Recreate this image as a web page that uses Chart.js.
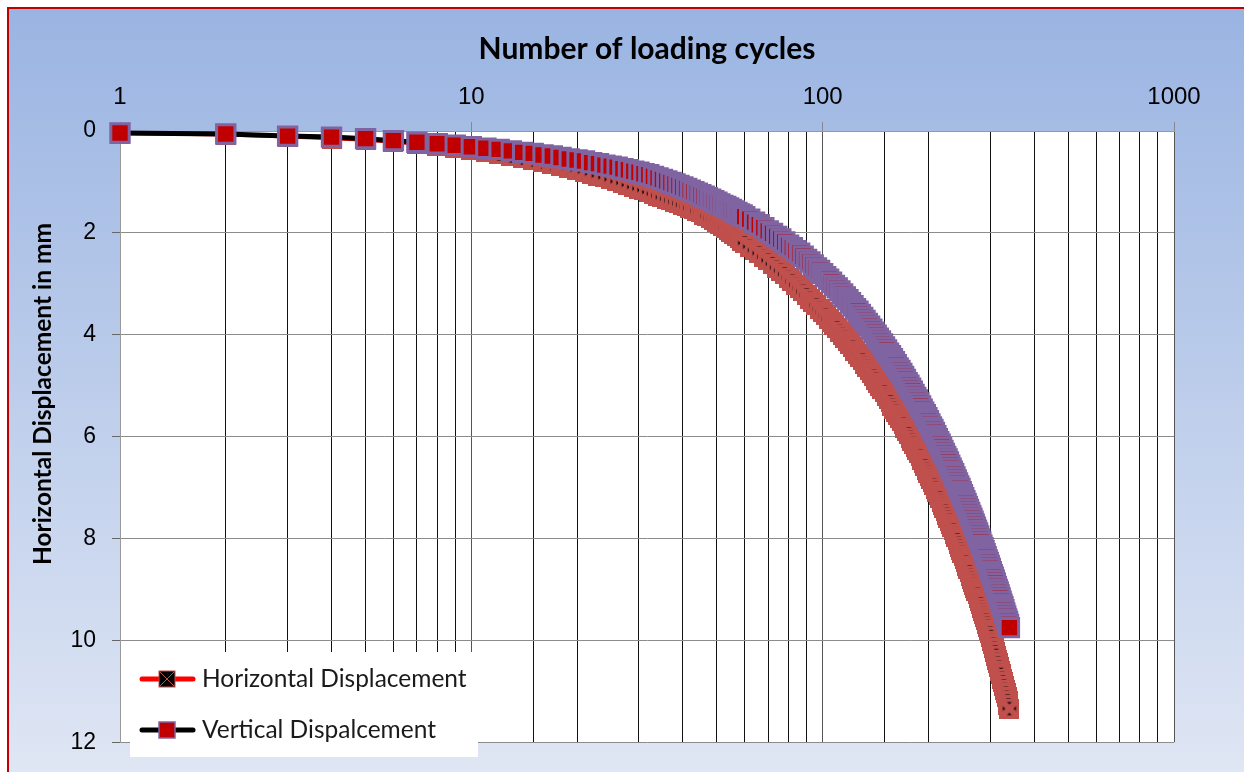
<!DOCTYPE html>
<html>
<head>
<meta charset="utf-8">
<script src="https://cdn.jsdelivr.net/npm/chart.js@4.4.1/dist/chart.umd.min.js"></script>
<style>
  html, body { margin: 0; padding: 0; background: #fff; }
  #wrap { width: 1244px; height: 772px; }
</style>
</head>
<body>
<div id="wrap"><canvas id="grafico" width="1244" height="772"></canvas></div>
<script>
// ciclos de carga (eixo x, log)
const cycles = [
  1, 2, 3, 4, 5, 6, 7, 8, 9, 10, 11, 12, 13, 14, 15, 16, 17, 18, 19, 20,
  21, 22, 23, 24, 25, 26, 27, 28, 29, 30, 31, 32, 33, 34, 35, 36, 37, 38, 39, 40,
  41, 42, 43, 44, 45, 46, 47, 48, 49, 50, 51, 52, 53, 54, 55, 56, 57, 58, 59, 60,
  62, 64, 66, 68, 70, 72, 74, 76, 78, 80, 82, 84, 86, 88, 90, 92, 94, 96, 98, 100,
  102, 104, 106, 108, 110, 112, 114, 116, 118, 120, 122, 124, 126, 128, 130, 132, 134, 136, 138, 140,
  142, 144, 146, 148, 150, 152, 154, 156, 158, 160, 162, 164, 166, 168, 170, 172, 174, 176, 178, 180,
  182, 184, 186, 188, 190, 192, 194, 196, 198, 200, 202, 204, 206, 208, 210, 212, 214, 216, 218, 220,
  222, 224, 226, 228, 230, 232, 234, 236, 238, 240, 242, 244, 246, 248, 250, 252, 254, 256, 258, 260,
  262, 264, 266, 268, 270, 272, 274, 276, 278, 280, 282, 284, 286, 288, 290, 292, 294, 296, 298, 300,
  302, 304, 306, 308, 310, 312, 314, 316, 318, 320, 322, 324, 326, 328, 330, 332, 334, 336, 338, 340
];

const horizontalDisp = [
  0.05, 0.08, 0.12, 0.15, 0.18, 0.22, 0.26, 0.30, 0.33, 0.37, 0.41, 0.45, 0.49, 0.53, 0.57, 0.61, 0.64, 0.68, 0.72, 0.76,
  0.80, 0.84, 0.88, 0.91, 0.95, 0.99, 1.02, 1.06, 1.10, 1.13, 1.16, 1.20, 1.23, 1.27, 1.30, 1.33, 1.36, 1.39, 1.42, 1.45,
  1.48, 1.51, 1.54, 1.57, 1.60, 1.64, 1.67, 1.71, 1.74, 1.78, 1.82, 1.86, 1.90, 1.94, 1.98, 2.02, 2.06, 2.11, 2.15, 2.20,
  2.27, 2.34, 2.40, 2.47, 2.54, 2.61, 2.68, 2.74, 2.81, 2.88, 2.95, 3.02, 3.08, 3.15, 3.22, 3.29, 3.36, 3.42, 3.49, 3.56,
  3.62, 3.69, 3.75, 3.81, 3.87, 3.94, 4.00, 4.06, 4.13, 4.19, 4.25, 4.32, 4.38, 4.44, 4.50, 4.57, 4.63, 4.69, 4.76, 4.82,
  4.88, 4.95, 5.01, 5.07, 5.13, 5.20, 5.26, 5.32, 5.39, 5.45, 5.51, 5.58, 5.64, 5.70, 5.76, 5.83, 5.89, 5.95, 6.02, 6.08,
  6.14, 6.21, 6.27, 6.33, 6.39, 6.46, 6.52, 6.58, 6.65, 6.71, 6.77, 6.84, 6.90, 6.96, 7.02, 7.09, 7.15, 7.21, 7.28, 7.34,
  7.40, 7.47, 7.53, 7.59, 7.65, 7.72, 7.78, 7.84, 7.91, 7.97, 8.03, 8.10, 8.16, 8.22, 8.28, 8.35, 8.41, 8.47, 8.54, 8.60,
  8.66, 8.73, 8.79, 8.85, 8.91, 8.98, 9.04, 9.10, 9.17, 9.23, 9.29, 9.36, 9.42, 9.48, 9.54, 9.61, 9.67, 9.73, 9.80, 9.86,
  9.93, 10.01, 10.08, 10.16, 10.23, 10.30, 10.38, 10.45, 10.53, 10.60, 10.67, 10.75, 10.82, 10.90, 10.97, 11.04, 11.12, 11.19, 11.27, 11.34
];

const verticalDisp = [
  0.04, 0.06, 0.10, 0.12, 0.15, 0.19, 0.22, 0.25, 0.28, 0.31, 0.34, 0.36, 0.39, 0.42, 0.44, 0.47, 0.49, 0.52, 0.55, 0.57,
  0.59, 0.62, 0.64, 0.67, 0.69, 0.71, 0.74, 0.76, 0.79, 0.81, 0.84, 0.86, 0.89, 0.92, 0.95, 0.98, 1.01, 1.04, 1.07, 1.10,
  1.13, 1.16, 1.19, 1.22, 1.25, 1.28, 1.31, 1.34, 1.37, 1.40, 1.43, 1.46, 1.48, 1.51, 1.54, 1.57, 1.60, 1.63, 1.65, 1.68,
  1.73, 1.79, 1.84, 1.90, 1.96, 2.01, 2.07, 2.12, 2.18, 2.24, 2.29, 2.35, 2.40, 2.46, 2.52, 2.57, 2.63, 2.69, 2.74, 2.80,
  2.86, 2.91, 2.97, 3.03, 3.08, 3.14, 3.20, 3.26, 3.31, 3.37, 3.43, 3.49, 3.54, 3.60, 3.66, 3.72, 3.78, 3.83, 3.89, 3.95,
  4.01, 4.07, 4.12, 4.18, 4.24, 4.30, 4.36, 4.41, 4.47, 4.53, 4.59, 4.65, 4.70, 4.76, 4.82, 4.88, 4.94, 4.99, 5.05, 5.11,
  5.17, 5.23, 5.28, 5.34, 5.40, 5.46, 5.52, 5.57, 5.63, 5.69, 5.75, 5.81, 5.86, 5.92, 5.98, 6.04, 6.10, 6.15, 6.21, 6.27,
  6.33, 6.39, 6.44, 6.50, 6.56, 6.62, 6.68, 6.73, 6.79, 6.85, 6.91, 6.97, 7.02, 7.08, 7.14, 7.20, 7.26, 7.31, 7.37, 7.43,
  7.49, 7.55, 7.60, 7.66, 7.72, 7.78, 7.84, 7.89, 7.95, 8.01, 8.07, 8.13, 8.18, 8.24, 8.30, 8.36, 8.42, 8.47, 8.53, 8.59,
  8.65, 8.71, 8.76, 8.82, 8.88, 8.94, 9.00, 9.05, 9.11, 9.17, 9.23, 9.29, 9.34, 9.40, 9.46, 9.52, 9.58, 9.63, 9.69, 9.75
];

const seriesNames = ['Horizontal Displacement', 'Vertical Dispalcement'];
const xMajorTicks = [1, 10, 100, 1000];
const yTickValues = [0, 2, 4, 6, 8, 10, 12];
const xTitle = 'Number of loading cycles';
const yTitle = 'Horizontal Displacement in mm';

const toPoints = vals => cycles.map((c, i) => ({ x: c, y: vals[i] }));

// marcador "x" da serie horizontal: quadrado preto com X vermelho grosso
function marcadorX(tam) {
  const c = document.createElement('canvas');
  c.width = tam; c.height = tam;
  const g = c.getContext('2d');
  g.fillStyle = '#000';
  g.fillRect(0, 0, tam, tam);
  g.strokeStyle = '#C0504D';
  g.lineWidth = 3.5;
  g.strokeRect(1.75, 1.75, tam - 3.5, tam - 3.5);
  g.lineWidth = 6;
  g.beginPath();
  g.moveTo(2, 2); g.lineTo(tam - 2, tam - 2);
  g.moveTo(tam - 2, 2); g.lineTo(2, tam - 2);
  g.stroke();
  return c;
}

// fundo azul em degrade + moldura vermelha + area branca
const fundo = {
  id: 'fundo',
  beforeDraw(chart) {
    const { ctx, width, height, chartArea: a } = chart;
    ctx.save();
    ctx.fillStyle = '#fff';
    ctx.fillRect(0, 0, width, height);
    const g = ctx.createLinearGradient(0, 8, 0, height);
    g.addColorStop(0, '#9AB4E2');
    g.addColorStop(1, '#DFE6F4');
    ctx.fillStyle = g;
    ctx.fillRect(8, 8, width - 8, height - 8);
    ctx.strokeStyle = '#C00000';
    ctx.lineWidth = 2;
    ctx.beginPath();
    ctx.moveTo(8, height);
    ctx.lineTo(8, 8);
    ctx.lineTo(width, 8);
    ctx.stroke();
    ctx.fillStyle = '#fff';
    ctx.fillRect(a.left, a.top, a.right - a.left, a.bottom - a.top);
    ctx.restore();
  }
};

// titulo do eixo y + legenda dentro do grafico
const extras = {
  id: 'extras',
  afterDraw(chart) {
    const ctx = chart.ctx;
    ctx.save();
    ctx.translate(43, 394);
    ctx.rotate(-Math.PI / 2);
    ctx.font = 'bold 24.5px Lato';
    ctx.fillStyle = '#000';
    ctx.textAlign = 'center';
    ctx.textBaseline = 'middle';
    ctx.fillText(yTitle, 0, 0);
    ctx.restore();

    // Legenda
    ctx.save();
    ctx.fillStyle = '#fff';
    ctx.fillRect(130, 652, 348, 105);
    const rows = [679, 730];
    ctx.font = '24.5px Lato';
    ctx.textBaseline = 'middle';
    rows.forEach((y, i) => {
      ctx.strokeStyle = i === 0 ? '#FF0000' : '#000';
      ctx.lineWidth = 5;
      ctx.lineCap = 'round';
      ctx.beginPath();
      ctx.moveTo(142, y);
      ctx.lineTo(193, y);
      ctx.stroke();
      if (i === 0) {
        ctx.fillStyle = '#000';
        ctx.fillRect(159, y - 8, 16, 16);
        ctx.strokeStyle = '#C0504D';
        ctx.lineWidth = 1;
        ctx.strokeRect(159, y - 8, 16, 16);
        ctx.beginPath();
        ctx.moveTo(160, y - 7); ctx.lineTo(174, y + 7);
        ctx.moveTo(174, y - 7); ctx.lineTo(160, y + 7);
        ctx.stroke();
      } else {
        ctx.fillStyle = '#C00000';
        ctx.fillRect(159, y - 8, 16, 16);
        ctx.strokeStyle = '#8064A2';
        ctx.lineWidth = 1.5;
        ctx.strokeRect(159, y - 8, 16, 16);
      }
      ctx.fillStyle = '#1a1a1a';
      ctx.fillText(chart.data.datasets[i].label, 202, y);
    });
    ctx.restore();
  }
};

new Chart(document.getElementById('grafico').getContext('2d'), {
  type: 'line',
  data: {
    datasets: [
      {
        label: seriesNames[0],
        data: toPoints(horizontalDisp),
        order: 2,
        borderColor: '#FF0000',
        borderWidth: 3,
        pointStyle: marcadorX(20),
        pointRadius: 10,
        tension: 0,
        clip: false
      },
      {
        label: seriesNames[1],
        data: toPoints(verticalDisp),
        order: 1,
        borderColor: '#000',
        borderWidth: 5,
        pointStyle: 'rect',
        pointRadius: 13,
        pointBackgroundColor: '#C00000',
        pointBorderColor: '#8064A2',
        pointBorderWidth: 3,
        tension: 0,
        clip: false
      }
    ]
  },
  options: {
    responsive: false,
    animation: false,
    devicePixelRatio: 1,
    layout: { padding: { left: 0, top: 0, right: 70, bottom: 24 } },
    plugins: {
      legend: { display: false },
      tooltip: { enabled: false }
    },
    events: [],
    scales: {
      x: {
        type: 'logarithmic',
        position: 'top',
        min: 1,
        max: 1000,
        afterFit: s => { s.height = 131; },
        title: {
          display: true,
          text: xTitle,
          color: '#000',
          font: { family: 'Lato', size: 30, weight: 'bold' },
          padding: { top: 31, bottom: 0 }
        },
        ticks: {
          autoSkip: false,
          maxRotation: 0,
          color: '#000',
          padding: 10,
          font: { family: 'Liberation Sans', size: 24 },
          callback: v => xMajorTicks.includes(v) ? String(v) : ''
        },
        grid: {
          color: ctx => (ctx.tick && xMajorTicks.includes(ctx.tick.value)) ? '#555' : '#111',
          tickColor: ctx => (ctx.tick && xMajorTicks.includes(ctx.tick.value)) ? '#888' : 'rgba(0,0,0,0)',
          tickLength: 9,
          lineWidth: 1
        },
        border: { display: true, color: '#999', width: 1 }
      },
      y: {
        reverse: true,
        min: 0,
        max: 12,
        afterFit: s => { s.width = 120; },
        afterBuildTicks: s => { s.ticks = yTickValues.map(v => ({ value: v })); },
        ticks: {
          color: '#000',
          padding: 16,
          font: { family: 'Liberation Sans', size: 23 }
        },
        grid: {
          color: '#8c8c8c',
          tickColor: '#666',
          tickLength: 8
        },
        border: { display: true, color: '#999', width: 1 }
      }
    }
  },
  plugins: [fundo, extras]
});
</script>
</body>
</html>
